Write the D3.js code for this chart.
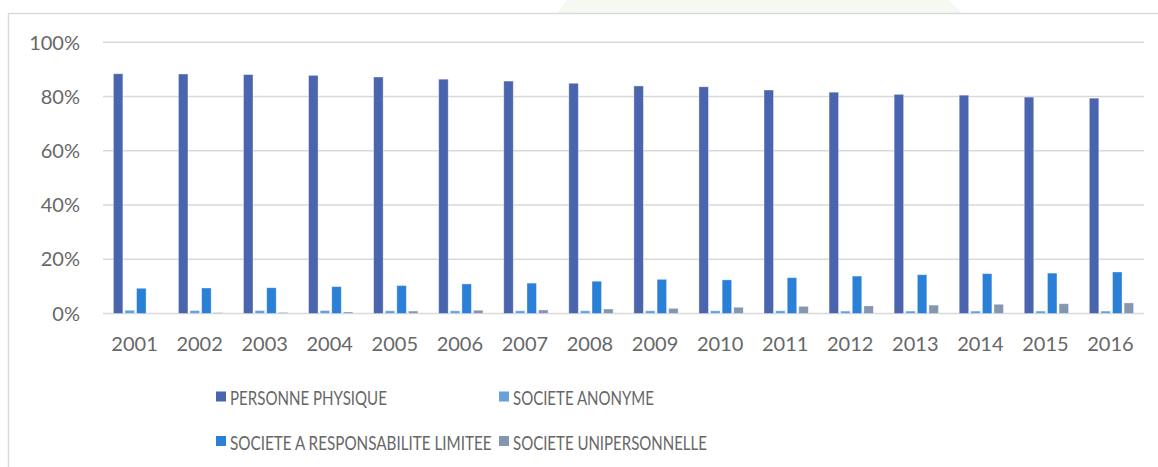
<!DOCTYPE html>
<html>
<head>
<meta charset="utf-8">
<script src="https://cdn.jsdelivr.net/npm/d3@7"></script>
<style>
  html, body { margin: 0; padding: 0; background: #ffffff; }
  svg { display: block; }
  text { font-family: Lato, "Open Sans", "DejaVu Sans", sans-serif; fill: #676767; }
</style>
</head>
<body>
<svg id="chart" width="1158" height="467"></svg>
<script>
// Share of enterprises by legal form, 2001–2016
const years = ["2001","2002","2003","2004","2005","2006","2007","2008",
               "2009","2010","2011","2012","2013","2014","2015","2016"];
const seriesNames = ["PERSONNE PHYSIQUE", "SOCIETE ANONYME",
                     "SOCIETE A RESPONSABILITE LIMITEE", "SOCIETE UNIPERSONNELLE"];
const personnePhysique = [88.4, 88.3, 88.1, 87.8, 87.2, 86.4, 85.7, 84.9,
                          83.9, 83.6, 82.4, 81.6, 80.8, 80.5, 79.8, 79.4];
const societeAnonyme   = [1.2, 1.1, 1.1, 1.1, 1.0, 1.0, 1.0, 1.0,
                          1.0, 1.0, 1.0, 0.9, 0.9, 0.9, 0.9, 0.9];
const societeSARL      = [9.3, 9.4, 9.5, 9.9, 10.3, 10.9, 11.2, 11.9,
                          12.6, 12.4, 13.2, 13.8, 14.3, 14.7, 14.9, 15.3];
const societeUnipers   = [0.1, 0.3, 0.4, 0.55, 0.9, 1.2, 1.3, 1.66,
                          1.9, 2.3, 2.65, 2.8, 3.1, 3.4, 3.6, 3.9];
const yTicks = [0, 20, 40, 60, 80, 100];
const colors = ["#4a65ad", "#67a1d8", "#2a7fd6", "#8496b0"];

const seriesValues = [personnePhysique, societeAnonyme, societeSARL, societeUnipers];
const rows = years.map((y, i) => ({
  year: y,
  values: seriesNames.map((s, k) => ({ series: s, value: seriesValues[k][i] }))
}));

const svg = d3.select("#chart");

// faint tinted shape peeking above the frame
svg.append("polygon")
  .attr("points", "567,0 948,0 962,13 557,13")
  .attr("fill", "#f4f9f1");

// chart frame
svg.append("rect")
  .attr("x", 8.5).attr("y", 13.5)
  .attr("width", 1180).attr("height", 480)
  .attr("fill", "#ffffff")
  .attr("stroke", "#d9d9d9").attr("stroke-width", 1.4);

const plot = { left: 103, right: 1144, top: 42.3, bottom: 313.5 };

const x0 = d3.scaleBand().domain(years).range([plot.left, plot.right])
  .paddingInner(0).paddingOuter(0);
const x1 = d3.scaleBand().domain(seriesNames).range([0, x0.bandwidth()])
  .paddingInner(0.181).paddingOuter(0.895);
const y = d3.scaleLinear().domain([0, 100]).range([plot.bottom, plot.top]);

// horizontal gridlines
svg.append("g")
  .selectAll("line")
  .data(yTicks)
  .join("line")
  .attr("x1", plot.left).attr("x2", plot.right)
  .attr("y1", d => y(d)).attr("y2", d => y(d))
  .attr("stroke", "#d9d9d9").attr("stroke-width", 1.6);

// y axis labels
svg.append("g")
  .selectAll("text")
  .data(yTicks)
  .join("text")
  .attr("x", 80).attr("y", d => y(d))
  .attr("dy", "0.36em")
  .attr("text-anchor", "end")
  .style("font-size", "20px")
  .text(d => d + "%");

// bars
const groups = svg.append("g")
  .selectAll("g")
  .data(rows)
  .join("g")
  .attr("transform", d => `translate(${x0(d.year)},0)`);

groups.selectAll("rect")
  .data(d => d.values)
  .join("rect")
  .attr("x", d => x1(d.series))
  .attr("width", x1.bandwidth())
  .attr("y", d => y(d.value))
  .attr("height", d => y(0) - y(d.value))
  .attr("fill", (d, i) => colors[i])
  .attr("stroke", "#ffffff").attr("stroke-opacity", 0.45).attr("stroke-width", 0.8);

// x axis labels
svg.append("g")
  .selectAll("text")
  .data(years)
  .join("text")
  .attr("x", d => x0(d) + x0.bandwidth() / 2 - 1)
  .attr("y", 344)
  .attr("dy", "0.36em")
  .attr("text-anchor", "middle")
  .style("font-size", "20px")
  .text(d => d);

// legend: two rows, two columns; labels are narrowed horizontally to their slot width
const legendItems = [
  { name: seriesNames[0], color: colors[0], x: 216, y: 398, w: 157 },
  { name: seriesNames[1], color: colors[1], x: 499, y: 398, w: 141 },
  { name: seriesNames[2], color: colors[2], x: 216, y: 442.5, w: 262 },
  { name: seriesNames[3], color: colors[3], x: 499, y: 442.5, w: 194 }
];
const legend = svg.append("g")
  .selectAll("g")
  .data(legendItems)
  .join("g")
  .attr("transform", d => `translate(${d.x},${d.y})`);
legend.append("rect")
  .attr("x", 0).attr("y", -6.5)
  .attr("width", 10).attr("height", 10)
  .attr("fill", d => d.color);
legend.append("text")
  .attr("x", 0).attr("y", 0)
  .attr("dy", "0.36em")
  .style("font-size", "20px")
  .text(d => d.name)
  .each(function (d) {
    const natural = this.getComputedTextLength();
    const k = natural > 0 ? d.w / natural : 1;
    d3.select(this).attr("transform", `translate(14,0) scale(${k},1)`);
  });
</script>
</body>
</html>
